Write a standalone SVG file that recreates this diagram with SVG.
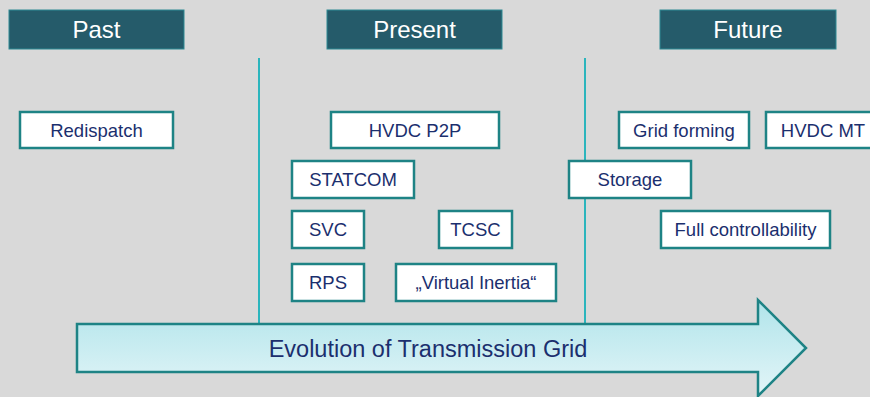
<svg xmlns="http://www.w3.org/2000/svg" width="870" height="397" viewBox="0 0 870 397">
<defs>
<linearGradient id="ag" x1="0" y1="0" x2="0" y2="1">
<stop offset="0" stop-color="#B0E4EA"/>
<stop offset="1" stop-color="#E3F5F8"/>
</linearGradient>
</defs>
<style>
.hdr rect{fill:#255B6A;stroke:#2E8A93;stroke-width:1}
.hdr text{fill:#FFFFFF;font-family:"Liberation Sans",Arial,sans-serif;font-size:24px;text-anchor:middle}
.box rect{fill:#FFFFFF;stroke:#1E8385;stroke-width:2.5}
.box text{fill:#1B2F6E;font-family:"Liberation Sans",Arial,sans-serif;font-size:18.5px;text-anchor:middle}
.vl{stroke:#2BB5BD;stroke-width:2}
</style>
<rect width="870" height="397" fill="#D9D9D9"/>
<g id="connectors">
<line class="vl" x1="259" y1="58" x2="259" y2="324"/>
<line class="vl" x1="585" y1="58" x2="585" y2="324"/>
</g>
<g id="hdr-past" class="hdr"><rect x="9" y="10" width="175" height="39"/><text x="96.5" y="38">Past</text></g>
<g id="hdr-present" class="hdr"><rect x="327" y="10" width="175" height="39"/><text x="414.5" y="38">Present</text></g>
<g id="hdr-future" class="hdr"><rect x="660" y="10" width="176" height="39"/><text x="748" y="38">Future</text></g>
<g id="redispatch" class="box"><rect x="20" y="112" width="153" height="36"/><text x="96.5" y="136.5">Redispatch</text></g>
<g id="hvdc-p2p" class="box"><rect x="331" y="112" width="168" height="36"/><text x="415" y="136.5">HVDC P2P</text></g>
<g id="statcom" class="box"><rect x="292" y="161" width="122" height="37"/><text x="353" y="186">STATCOM</text></g>
<g id="svc" class="box"><rect x="292" y="211" width="72" height="37"/><text x="328" y="236">SVC</text></g>
<g id="tcsc" class="box"><rect x="439" y="211" width="73" height="37"/><text x="475.5" y="236">TCSC</text></g>
<g id="rps" class="box"><rect x="292" y="264" width="72" height="37"/><text x="328" y="289">RPS</text></g>
<g id="virtual-inertia" class="box"><rect x="396" y="264" width="160" height="37"/><text x="476" y="289">„Virtual Inertia“</text></g>
<g id="grid-forming" class="box"><rect x="619" y="112" width="130" height="36"/><text x="684" y="136.5">Grid forming</text></g>
<g id="hvdc-mt" class="box"><rect x="766" y="112" width="115" height="36"/><text x="823" y="136.5">HVDC MT</text></g>
<g id="storage" class="box"><rect x="569" y="161" width="122" height="37"/><text x="630" y="186">Storage</text></g>
<g id="full-controllability" class="box"><rect x="661" y="211" width="169" height="37"/><text x="745.5" y="236">Full controllability</text></g>
<g id="evolution-arrow">
<path d="M77 324 H758 V300 L806 348 L758 396 V372 H77 Z" fill="url(#ag)" stroke="#1E8385" stroke-width="2.5" stroke-linejoin="miter"/>
<text x="428" y="357" fill="#1B2F6E" font-family="'Liberation Sans',Arial,sans-serif" font-size="23.5" text-anchor="middle">Evolution of Transmission Grid</text>
</g>
</svg>
